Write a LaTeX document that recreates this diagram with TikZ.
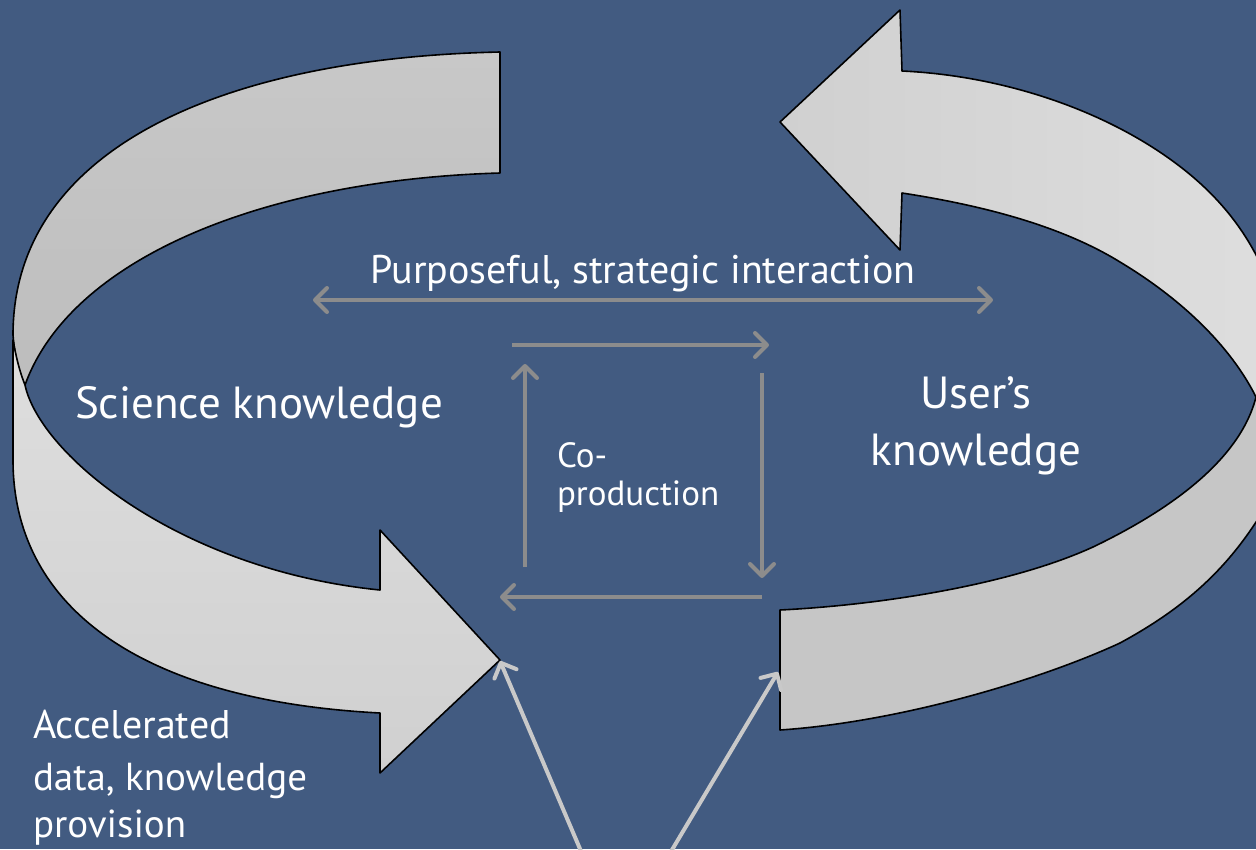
\documentclass[tikz,border=0pt]{standalone}
\usepackage{fontspec}
\setmainfont{PT Sans}
\usetikzlibrary{arrows.meta}
\definecolor{bg}{HTML}{425B81}
\definecolor{arrgray}{HTML}{8C8C8C}
\definecolor{lightarr}{HTML}{C9C9C9}
\definecolor{backL}{HTML}{C8C8C8}
\definecolor{backLb}{HTML}{BDBDBD}
\definecolor{backR}{HTML}{C6C6C6}
\definecolor{frontTop}{HTML}{DEDEDE}
\definecolor{frontBot}{HTML}{D0D0D0}
\tikzset{mybarb/.tip={Straight Barb[length=12pt,width=24pt,round]}}
\begin{document}
\begin{tikzpicture}[x=1pt,y=-1pt,
  ribbon/.style={draw=black,line width=1.6pt,line join=round},
  garrow/.style={draw=arrgray,line width=4pt,-{mybarb}},
  gdouble/.style={draw=arrgray,line width=4pt,{mybarb}-{mybarb}},
  larrow/.style={draw=lightarr,line width=4pt,-{mybarb}},
  lbl/.style={text=white,inner sep=0pt,outer sep=0pt}]
\fill[bg] (0,0) rectangle (1256,849);
\useasboundingbox (0,0) rectangle (1256,849);
\begin{scope}
\clip (0,0) rectangle (1256,849);
% left arrow: back face
\path[ribbon,top color=backL,bottom color=backLb]
  (500,52) .. controls (220,58) and (13,150) .. (13,335)
  .. controls (15,360) and (20,375) .. (25,385)
  .. controls (70,260) and (260,180) .. (500,173) -- cycle;
% left arrow: front face
\path[ribbon,top color=frontTop,bottom color=frontBot]
  (25,385) .. controls (40,455) and (180,570) .. (380,590)
  -- (380,530) -- (500,660) -- (380,773) -- (380,713)
  .. controls (130,700) and (13,600) .. (13,460)
  -- (13,340) .. controls (17,362) and (21,375) .. (25,385) -- cycle;
% right arrow: back face
\path[ribbon,fill=backR]
  (1256,397) .. controls (1240,460) and (1170,510) .. (1093,547)
  .. controls (1010,585) and (880,605) .. (780,610)
  -- (780,730) .. controls (900,722) and (1040,680) .. (1120,643)
  .. controls (1190,605) and (1240,560) .. (1280,480) -- (1280,400) -- cycle;
% right arrow: front face
\path[ribbon,left color=frontBot,right color=frontTop]
  (780,122) -- (900,10) -- (902,71)
  .. controls (1010,76) and (1120,115) .. (1193,177)
  .. controls (1235,213) and (1262,255) .. (1278,310)
  -- (1278,392) -- (1256,397)
  .. controls (1230,345) and (1180,298) .. (1120,262)
  .. controls (1060,225) and (980,205) .. (902,193)
  -- (900,250) -- cycle;
\end{scope}
% coordinates for connectors
\coordinate (pL) at (313,300);
\coordinate (pR) at (993,300);
\coordinate (t1) at (512,345);
\coordinate (t2) at (769,345);
\coordinate (r1) at (762,373);
\coordinate (r2) at (762,578);
\coordinate (b1) at (762,597);
\coordinate (b2) at (500,597);
\coordinate (l1) at (525,567);
\coordinate (l2) at (525,364);
\coordinate (sciTip) at (500,661);
\coordinate (usrEnd) at (778,672);
\coordinate (f1) at (589,870);
\coordinate (f2) at (660,870);
% grey connectors
\draw[gdouble] (pL) -- (pR);
\draw[garrow] (t1) -- (t2);
\draw[garrow] (r1) -- (r2);
\draw[garrow] (b1) -- (b2);
\draw[garrow] (l1) -- (l2);
\draw[larrow] (f1) -- (sciTip);
\draw[larrow] (f2) -- (usrEnd);
% labels
\node[lbl,anchor=base] (purp) at (643,283) {\fontsize{40}{48}\selectfont Purposeful, strategic interaction};
\node[lbl,anchor=base west] (sci) at (75,418) {\fontsize{45}{54}\selectfont Science knowledge};
\node[lbl,anchor=base] (usr1) at (976,408) {\fontsize{45}{54}\selectfont User’s};
\node[lbl,anchor=base] (usr2) at (976,465) {\fontsize{45}{54}\selectfont knowledge};
\node[lbl,anchor=base west] (co1) at (557,467) {\fontsize{35}{42}\selectfont Co-};
\node[lbl,anchor=base west] (co2) at (557,505) {\fontsize{35}{42}\selectfont production};
\node[lbl,anchor=base west] (acc1) at (33,738) {\fontsize{40}{48}\selectfont Accelerated};
\node[lbl,anchor=base west] (acc2) at (33,790) {\fontsize{39}{46}\selectfont data, knowledge};
\node[lbl,anchor=base west] (acc3) at (33,837) {\fontsize{39}{46}\selectfont provision};
\end{tikzpicture}
\end{document}
